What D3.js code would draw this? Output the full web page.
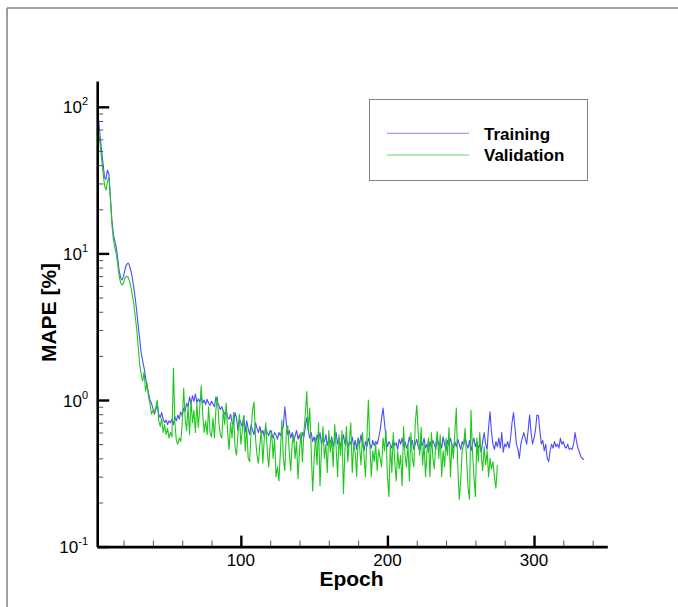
<!DOCTYPE html>
<html>
<head>
<meta charset="utf-8">
<script src="https://cdn.jsdelivr.net/npm/d3@7"></script>
<style>
  html, body { margin: 0; padding: 0; background: #ffffff; }
  svg { display: block; }
  text { font-family: "Liberation Sans", Arial, Helvetica, sans-serif; fill: #000; }
</style>
</head>
<body>
<svg id="chart" width="678" height="607"></svg>
<script>
// Training history: MAPE (%) per epoch, first value at epoch 2
const firstEpoch = 2;

const trainingMape = [
  98, 80, 63, 50, 41, 33, 32, 37, 35, 24,
  17, 13.5, 12.2, 11, 9.2, 7.6, 6.8, 6.6, 7.0, 7.8,
  8.4, 8.6, 8.3, 7.6, 6.8, 5.8, 4.9, 4.0, 3.2, 2.6,
  2.1, 1.85, 1.65, 1.42, 1.25, 1.12, 1.0, 0.95, 0.88, 0.8,
  0.86, 0.92, 0.8, 0.76, 0.82, 0.74, 0.7, 0.73, 0.68, 0.72,
  0.7, 0.74, 0.68, 0.77, 0.72, 0.79, 0.74, 0.83, 0.78, 0.88,
  0.84, 0.95, 0.9, 1.05, 0.94, 1.07, 0.98, 1.1, 0.96, 1.02,
  0.97, 1.04, 0.95, 1.0, 0.93, 1.01, 0.95, 0.92, 0.98, 0.94,
  0.9, 1.05, 0.96, 0.92, 0.86, 0.9, 0.84, 0.8, 0.85, 0.76,
  0.74, 0.8, 0.7, 0.68, 0.82, 0.76, 0.62, 0.74, 0.7, 0.66,
  0.78, 0.6, 0.72, 0.64, 0.58, 0.68, 0.62, 0.58, 0.7, 0.64,
  0.6, 0.66, 0.58, 0.62, 0.56, 0.64, 0.6, 0.57, 0.62, 0.59,
  0.55, 0.6, 0.58, 0.54, 0.6, 0.57, 0.62, 0.66, 0.9, 0.7,
  0.58, 0.62, 0.55, 0.6, 0.52, 0.57, 0.62, 0.54, 0.58, 0.52,
  0.6, 0.56, 0.66, 0.76, 0.62, 0.55, 0.6, 0.52, 0.56, 0.5,
  0.58, 0.53, 0.6, 0.5, 0.55, 0.52, 0.58, 0.49, 0.54, 0.51,
  0.56, 0.48, 0.53, 0.6, 0.5, 0.55, 0.48, 0.52, 0.58, 0.5,
  0.55, 0.47, 0.52, 0.5, 0.56, 0.48, 0.53, 0.46, 0.55, 0.5,
  0.58, 0.5, 0.45, 0.52, 0.48, 0.55, 0.5, 0.47, 0.53, 0.49,
  0.52, 0.5, 0.55, 0.62, 0.75, 0.88, 0.7, 0.55, 0.48, 0.52,
  0.5, 0.47, 0.53, 0.49, 0.51, 0.46, 0.54, 0.5, 0.55, 0.48,
  0.52, 0.47, 0.5, 0.56, 0.49, 0.53, 0.46, 0.5, 0.54, 0.48,
  0.45, 0.52, 0.49, 0.55, 0.47, 0.5, 0.44, 0.52, 0.48, 0.53,
  0.5, 0.46, 0.55, 0.49, 0.52, 0.47, 0.56, 0.5, 0.45, 0.53,
  0.49, 0.55, 0.5, 0.47, 0.52, 0.48, 0.54, 0.5, 0.46, 0.52,
  0.49, 0.56, 0.5, 0.47, 0.53, 0.45, 0.5, 0.55, 0.48, 0.52,
  0.47, 0.5, 0.44, 0.52, 0.6, 0.5, 0.46, 0.65, 0.83, 0.6,
  0.5, 0.46, 0.52, 0.48, 0.55, 0.47, 0.6, 0.44, 0.5, 0.48,
  0.52, 0.47, 0.55, 0.7, 0.82, 0.65, 0.5, 0.46, 0.4, 0.5,
  0.55, 0.6, 0.55, 0.5, 0.62, 0.79, 0.6, 0.5, 0.55, 0.62,
  0.79, 0.78, 0.62, 0.5, 0.53, 0.45, 0.5, 0.4, 0.38, 0.45,
  0.5, 0.47, 0.52, 0.48, 0.5, 0.47, 0.55, 0.5, 0.52, 0.48,
  0.47, 0.5, 0.46, 0.47, 0.46, 0.5, 0.6, 0.52, 0.47, 0.44,
  0.41, 0.4, 0.39
];

const validationMape = [
  88, 70, 55, 44, 36, 29, 27, 31, 33, 24,
  16, 12.5, 11, 10, 8.4, 7, 6.3, 6.1, 6.3, 6.8,
  7.0, 6.9, 6.5, 5.9, 5.2, 4.5, 3.7, 3.0, 2.3, 1.75,
  1.5, 1.35, 1.55, 1.15, 1.3, 1.05, 0.95, 0.8, 0.85, 0.82,
  0.9, 1.0, 0.72, 0.66, 0.75, 0.6, 0.68, 0.58, 0.64, 0.55,
  0.6, 0.56, 1.65, 0.7, 0.53, 0.5, 0.55, 0.52, 0.7, 1.2,
  0.75, 0.62, 0.9, 0.58, 1.0, 0.7, 0.85, 0.6, 0.95, 0.65,
  0.9, 1.25, 0.8, 0.6, 0.72, 0.58, 0.9, 0.6, 0.56, 0.75,
  0.55, 0.86, 1.05, 0.7, 0.58, 0.55, 0.85, 0.68, 0.95, 0.6,
  0.46, 0.7, 0.55, 0.82, 0.48, 0.42, 0.58, 0.8, 0.5, 0.62,
  0.78, 0.45, 0.65, 0.4, 0.38, 0.62, 0.85, 0.97, 0.55, 0.42,
  0.37, 0.5, 0.62, 0.37, 0.55, 0.7, 0.45, 0.35, 0.5, 0.62,
  0.4, 0.55, 0.3, 0.35, 0.28, 0.45, 0.73, 0.4, 0.33, 0.6,
  0.67, 0.45, 0.33, 0.5, 0.58, 0.4, 0.52, 0.29, 0.45, 0.6,
  0.38, 0.6, 0.8, 1.14, 0.62, 0.88, 0.45, 0.24, 0.4, 0.55,
  0.36, 0.7, 0.26, 0.45, 0.66, 0.4, 0.5, 0.32, 0.62, 0.44,
  0.55, 0.35, 0.68, 0.48, 0.3, 0.58, 0.42, 0.62, 0.23, 0.45,
  0.66, 0.38, 0.52, 0.7, 0.32, 0.5, 0.44, 0.3, 0.55, 0.48,
  0.36, 0.6, 0.42, 0.3, 0.55, 1.0, 0.5, 0.3, 0.45, 0.38,
  0.5, 0.33, 0.46, 0.4, 0.35, 0.55, 0.45, 0.62, 0.3, 0.22,
  0.5, 0.32, 0.6, 0.38, 0.28, 0.45, 0.34, 0.42, 0.26, 0.66,
  0.42, 0.35, 0.5, 0.28, 0.6, 0.4, 0.35, 0.7, 0.92, 0.6,
  0.42, 0.65, 0.36, 0.5, 0.3, 0.45, 0.55, 0.3, 0.6, 0.4,
  0.34, 0.5, 0.61, 0.4, 0.58, 0.3, 0.45, 0.35, 0.55, 0.42,
  0.65, 0.3, 0.5, 0.4, 0.6, 0.88, 0.35, 0.21, 0.28, 0.45,
  0.5, 0.64, 0.4, 0.25, 0.21, 0.85, 0.45, 0.3, 0.22, 0.55,
  0.38, 0.6, 0.42, 0.33, 0.48, 0.36, 0.45, 0.3, 0.4, 0.34,
  0.38, 0.3, 0.25, 0.36
];

const seriesNames = ["Training", "Validation"];
const seriesColors = ["#4b4bff", "#1dc81d"];

// Axis ticks
const xMajorTicks = [100, 200, 300];
const xMinorTicks = [20, 40, 60, 80, 120, 140, 160, 180, 220, 240, 260, 280, 320, 340];
const yMajorTicks = [0.1, 1, 10, 100];
const yMajorExponents = ["-1", "0", "1", "2"];
const yMinorTicks = [0.2, 0.3, 0.4, 0.5, 0.6, 0.7, 0.8, 0.9,
                     2, 3, 4, 5, 6, 7, 8, 9,
                     20, 30, 40, 50, 60, 70, 80, 90];

const svg = d3.select("#chart");

// outer frame
svg.append("path")
  .attr("d", "M7,8H678M7,8V607")
  .attr("fill", "none")
  .attr("stroke", "#808080")
  .attr("stroke-width", 1.5);

const x = d3.scaleLinear().domain([2, 350]).range([97.2, 607.3]);
const y = d3.scaleLog().domain([0.1, 150]).range([546.6, 81]);

const toPoints = vals => vals.map((v, i) => ({ epoch: firstEpoch + i, value: v }));
const line = d3.line().x(d => x(d.epoch)).y(d => y(d.value));

const plot = svg.append("g");
[trainingMape, validationMape].forEach((vals, k) => {
  plot.append("path")
    .datum(toPoints(vals))
    .attr("fill", "none")
    .attr("stroke", seriesColors[k])
    .attr("stroke-width", 1.1)
    .attr("stroke-linejoin", "round")
    .attr("d", line);
});

// y axis: minor ticks, major ticks, spine
const yAxisG = svg.append("g").attr("transform", `translate(${x.range()[0]},0)`);
yAxisG.append("g")
  .call(d3.axisLeft(y).tickValues(yMinorTicks).tickSizeInner(-6).tickSizeOuter(0).tickFormat(""))
  .call(g => g.select(".domain").remove())
  .call(g => g.selectAll(".tick line").attr("stroke", "#555").attr("stroke-width", 1));
yAxisG.append("g")
  .call(d3.axisLeft(y).tickValues(yMajorTicks).tickSizeInner(-12).tickSizeOuter(0).tickFormat(""))
  .call(g => g.select(".domain").attr("stroke", "#000").attr("stroke-width", 2.6))
  .call(g => g.selectAll(".tick line").attr("stroke", "#000").attr("stroke-width", 2.4));

// y tick labels as powers of ten
yMajorTicks.forEach((v, i) => {
  const t = svg.append("text")
    .attr("x", 88)
    .attr("y", y(v) + 6.6)
    .attr("text-anchor", "end")
    .attr("font-size", 17);
  t.append("tspan").text("10");
  t.append("tspan").attr("dy", -8).attr("font-size", 11).text(yMajorExponents[i]);
});

// x axis
const xAxisG = svg.append("g").attr("transform", `translate(0,${y.range()[0]})`);
xAxisG.append("g")
  .call(d3.axisBottom(x).tickValues(xMinorTicks).tickSizeInner(-6).tickSizeOuter(0).tickFormat(""))
  .call(g => g.select(".domain").remove())
  .call(g => g.selectAll(".tick line").attr("stroke", "#555").attr("stroke-width", 1));
xAxisG.append("g")
  .call(d3.axisBottom(x).tickValues(xMajorTicks).tickSizeInner(-11).tickSizeOuter(0).tickFormat(""))
  .call(g => g.select(".domain").attr("stroke", "#000").attr("stroke-width", 2.6))
  .call(g => g.selectAll(".tick line").attr("stroke", "#000").attr("stroke-width", 2.4));

xMajorTicks.forEach(v => {
  svg.append("text")
    .attr("x", x(v))
    .attr("y", 565.7)
    .attr("text-anchor", "middle")
    .attr("font-size", 17)
    .text(v);
});

// axis titles
svg.append("text")
  .attr("x", 351.5)
  .attr("y", 585.7)
  .attr("text-anchor", "middle")
  .attr("font-size", 21)
  .attr("font-weight", "bold")
  .text("Epoch");

svg.append("text")
  .attr("transform", "translate(56,312.5) rotate(-90)")
  .attr("text-anchor", "middle")
  .attr("font-size", 21)
  .attr("font-weight", "bold")
  .text("MAPE [%]");

// legend
const legend = svg.append("g");
legend.append("rect")
  .attr("x", 369.5).attr("y", 99.5)
  .attr("width", 218).attr("height", 81)
  .attr("fill", "#fff")
  .attr("stroke", "#808080")
  .attr("stroke-width", 1);
const legendRows = [133.3, 155];
seriesNames.forEach((name, k) => {
  legend.append("line")
    .attr("x1", 387).attr("x2", 469)
    .attr("y1", legendRows[k]).attr("y2", legendRows[k])
    .attr("stroke", seriesColors[k])
    .attr("stroke-opacity", 0.7)
    .attr("stroke-width", 1);
  legend.append("text")
    .attr("x", 484)
    .attr("y", legendRows[k] + 6.2)
    .attr("font-size", 17)
    .attr("font-weight", "bold")
    .text(name);
});
</script>
</body>
</html>
